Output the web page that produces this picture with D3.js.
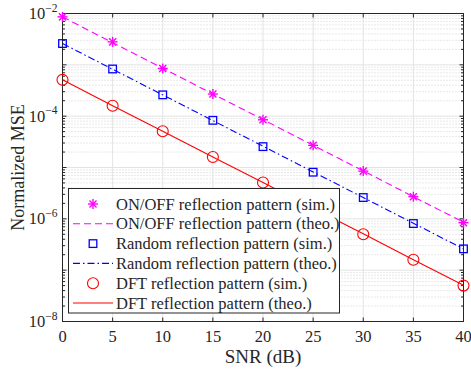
<!DOCTYPE html>
<html>
<head>
<meta charset="utf-8">
<script src="https://cdn.jsdelivr.net/npm/d3@7"></script>
<style>
  body { margin: 0; background: #fff; }
</style>
</head>
<body>
<div id="drawarea"></div>
<script>
// SNR points (dB)
const snr = [0, 5, 10, 15, 20, 25, 30, 35, 40];
// normalized MSE
const onoffSim = [8.6e-3, 2.8e-3, 8.5e-4, 2.7e-4, 8.5e-5, 2.7e-5, 8.5e-6, 2.7e-6, 8.4e-7];
const onoffTheo = [8.6e-3, 2.7e-3, 8.6e-4, 2.7e-4, 8.6e-5, 2.7e-5, 8.6e-6, 2.7e-6, 8.6e-7];
const randSim = [2.6e-3, 8.3e-4, 2.6e-4, 8.3e-5, 2.55e-5, 8.1e-6, 2.6e-6, 8.1e-7, 2.6e-7];
const randTheo = [2.6e-3, 8.2e-4, 2.6e-4, 8.2e-5, 2.6e-5, 8.2e-6, 2.6e-6, 8.2e-7, 2.6e-7];
const dftSim = [5.1e-4, 1.6e-4, 5.1e-5, 1.6e-5, 5.1e-6, 1.6e-6, 5.0e-7, 1.6e-7, 5.0e-8];
const dftTheo = [5.1e-4, 1.6e-4, 5.1e-5, 1.6e-5, 5.1e-6, 1.6e-6, 5.1e-7, 1.6e-7, 5.1e-8];
const xTicks = [0, 5, 10, 15, 20, 25, 30, 35, 40];
const yExps = ["−8", "−6", "−4", "−2"];
const yTickVals = [1e-8, 1e-6, 1e-4, 1e-2];
const legendLabels = [
  "ON/OFF reflection pattern (sim.)",
  "ON/OFF reflection pattern (theo.)",
  "Random reflection pattern (sim.)",
  "Random reflection pattern (theo.)",
  "DFT reflection pattern (sim.)",
  "DFT reflection pattern (theo.)"
];

const W = 471, H = 370;
const m = {left: 62.5, right: 463.5, top: 13.5, bottom: 321.5};
const serif = "'Liberation Serif', 'Times New Roman', Times, serif";

let svg = d3.select("div#drawarea").append("svg")
    .attr("width", W)
    .attr("height", H)
    .attr("font-family", serif);

let x = d3.scaleLinear().domain([0, 40]).range([m.left, m.right]);
let y = d3.scaleLog().domain([1e-8, 1e-2]).range([m.bottom, m.top]);

// grid: minor dotted horizontal lines first, then major solid ones
let minorVals = [];
for (let e = -8; e < -2; e++) {
    for (let k = 2; k <= 9; k++) minorVals.push(k * Math.pow(10, e));
}
let majorVals = d3.range(-8, -1).map(e => Math.pow(10, e));
let grid = svg.append("g");
minorVals.forEach(v => {
    grid.append("line")
        .attr("x1", m.left).attr("x2", m.right)
        .attr("y1", y(v)).attr("y2", y(v))
        .attr("stroke", "#c8c8c8")
        .attr("stroke-width", 0.8)
        .attr("stroke-dasharray", "1,2");
});
majorVals.forEach(v => {
    grid.append("line")
        .attr("x1", m.left).attr("x2", m.right)
        .attr("y1", y(v)).attr("y2", y(v))
        .attr("stroke", "#e3e3e3")
        .attr("stroke-width", 1);
});
xTicks.forEach(t => {
    grid.append("line")
        .attr("x1", x(t)).attr("x2", x(t))
        .attr("y1", m.top).attr("y2", m.bottom)
        .attr("stroke", "#e3e3e3")
        .attr("stroke-width", 1);
});

// axes with inward ticks on all four sides
let axisG = svg.append("g");
axisG.append("rect")
    .attr("x", m.left).attr("y", m.top)
    .attr("width", m.right - m.left).attr("height", m.bottom - m.top)
    .attr("fill", "none").attr("stroke", "#262626").attr("stroke-width", 1);

xTicks.forEach(t => {
    axisG.append("line").attr("x1", x(t)).attr("x2", x(t))
        .attr("y1", m.bottom).attr("y2", m.bottom - 4).attr("stroke", "#262626");
    axisG.append("line").attr("x1", x(t)).attr("x2", x(t))
        .attr("y1", m.top).attr("y2", m.top + 4).attr("stroke", "#262626");
    axisG.append("text")
        .attr("x", x(t)).attr("y", m.bottom + 20.5)
        .attr("text-anchor", "middle")
        .attr("font-size", 16.5)
        .attr("fill", "#262626")
        .text(t);
});
majorVals.forEach(v => {
    axisG.append("line").attr("x1", m.left).attr("x2", m.left + 4)
        .attr("y1", y(v)).attr("y2", y(v)).attr("stroke", "#262626");
    axisG.append("line").attr("x1", m.right).attr("x2", m.right - 4)
        .attr("y1", y(v)).attr("y2", y(v)).attr("stroke", "#262626");
});
minorVals.forEach(v => {
    axisG.append("line").attr("x1", m.left).attr("x2", m.left + 2.5)
        .attr("y1", y(v)).attr("y2", y(v)).attr("stroke", "#262626");
    axisG.append("line").attr("x1", m.right).attr("x2", m.right - 2.5)
        .attr("y1", y(v)).attr("y2", y(v)).attr("stroke", "#262626");
});
yTickVals.forEach((v, i) => {
    let t = axisG.append("text")
        .attr("x", m.left - 5).attr("y", y(v) + 5.5)
        .attr("text-anchor", "end")
        .attr("font-size", 16.5)
        .attr("fill", "#262626");
    t.append("tspan").text("10");
    t.append("tspan").attr("font-size", 11.5).attr("dy", -7.5).text(yExps[i]);
});

svg.append("text")
    .attr("x", (m.left + m.right) / 2).attr("y", 363)
    .attr("text-anchor", "middle")
    .attr("font-size", 19)
    .attr("fill", "#262626")
    .text("SNR (dB)");
svg.append("text")
    .attr("transform", "translate(24," + ((m.top + m.bottom) / 2) + ") rotate(-90)")
    .attr("text-anchor", "middle")
    .attr("font-size", 18)
    .attr("fill", "#262626")
    .text("Normalized MSE");

// series
const series = [
    {sim: onoffSim, theo: onoffTheo, color: "#ff00ff", dash: "7,4", marker: "star"},
    {sim: randSim, theo: randTheo, color: "#0000ff", dash: "7,3,1.5,3", marker: "square"},
    {sim: dftSim, theo: dftTheo, color: "#ff0000", dash: null, marker: "circle"}
];

let line = d3.line().x((d, i) => x(snr[i])).y(d => y(d));
let plot = svg.append("g");

function drawMarker(g, type, cx, cy, color) {
    if (type === "circle") {
        g.append("circle").attr("cx", cx).attr("cy", cy).attr("r", 5.5)
            .attr("fill", "none").attr("stroke", color).attr("stroke-width", 1.1);
    } else if (type === "square") {
        g.append("rect").attr("x", cx - 3.8).attr("y", cy - 3.8)
            .attr("width", 7.6).attr("height", 7.6)
            .attr("fill", "none").attr("stroke", color).attr("stroke-width", 1.3);
    } else {
        let r = 5;
        [0, 45, 90, 135].forEach(a => {
            let rad = a * Math.PI / 180;
            g.append("line")
                .attr("x1", cx - r * Math.cos(rad)).attr("y1", cy - r * Math.sin(rad))
                .attr("x2", cx + r * Math.cos(rad)).attr("y2", cy + r * Math.sin(rad))
                .attr("stroke", color).attr("stroke-width", 1.4);
        });
    }
}

series.forEach(s => {
    plot.append("path")
        .attr("d", line(s.theo))
        .attr("fill", "none")
        .attr("stroke", s.color)
        .attr("stroke-width", 1.1)
        .attr("stroke-dasharray", s.dash);
    s.sim.forEach((v, i) => drawMarker(plot, s.marker, x(snr[i]), y(v), s.color));
});

// legend
let leg = svg.append("g");
leg.append("rect")
    .attr("x", 68.5).attr("y", 188.5)
    .attr("width", 271).attr("height", 124.5)
    .attr("fill", "#fff").attr("stroke", "#262626").attr("stroke-width", 1);
legendLabels.forEach((lab, i) => {
    let cy = 204 + i * 19.8;
    let s = series[Math.floor(i / 2)];
    if (i % 2 === 0) {
        drawMarker(leg, s.marker, 93, cy, s.color);
    } else {
        leg.append("line")
            .attr("x1", 73).attr("x2", 113)
            .attr("y1", cy).attr("y2", cy)
            .attr("stroke", s.color).attr("stroke-width", 1.1)
            .attr("stroke-dasharray", s.dash);
    }
    leg.append("text")
        .attr("x", 116).attr("y", cy + 5.5)
        .attr("font-size", 16.5)
        .attr("fill", "#262626")
        .text(lab);
});
</script>
</body>
</html>
